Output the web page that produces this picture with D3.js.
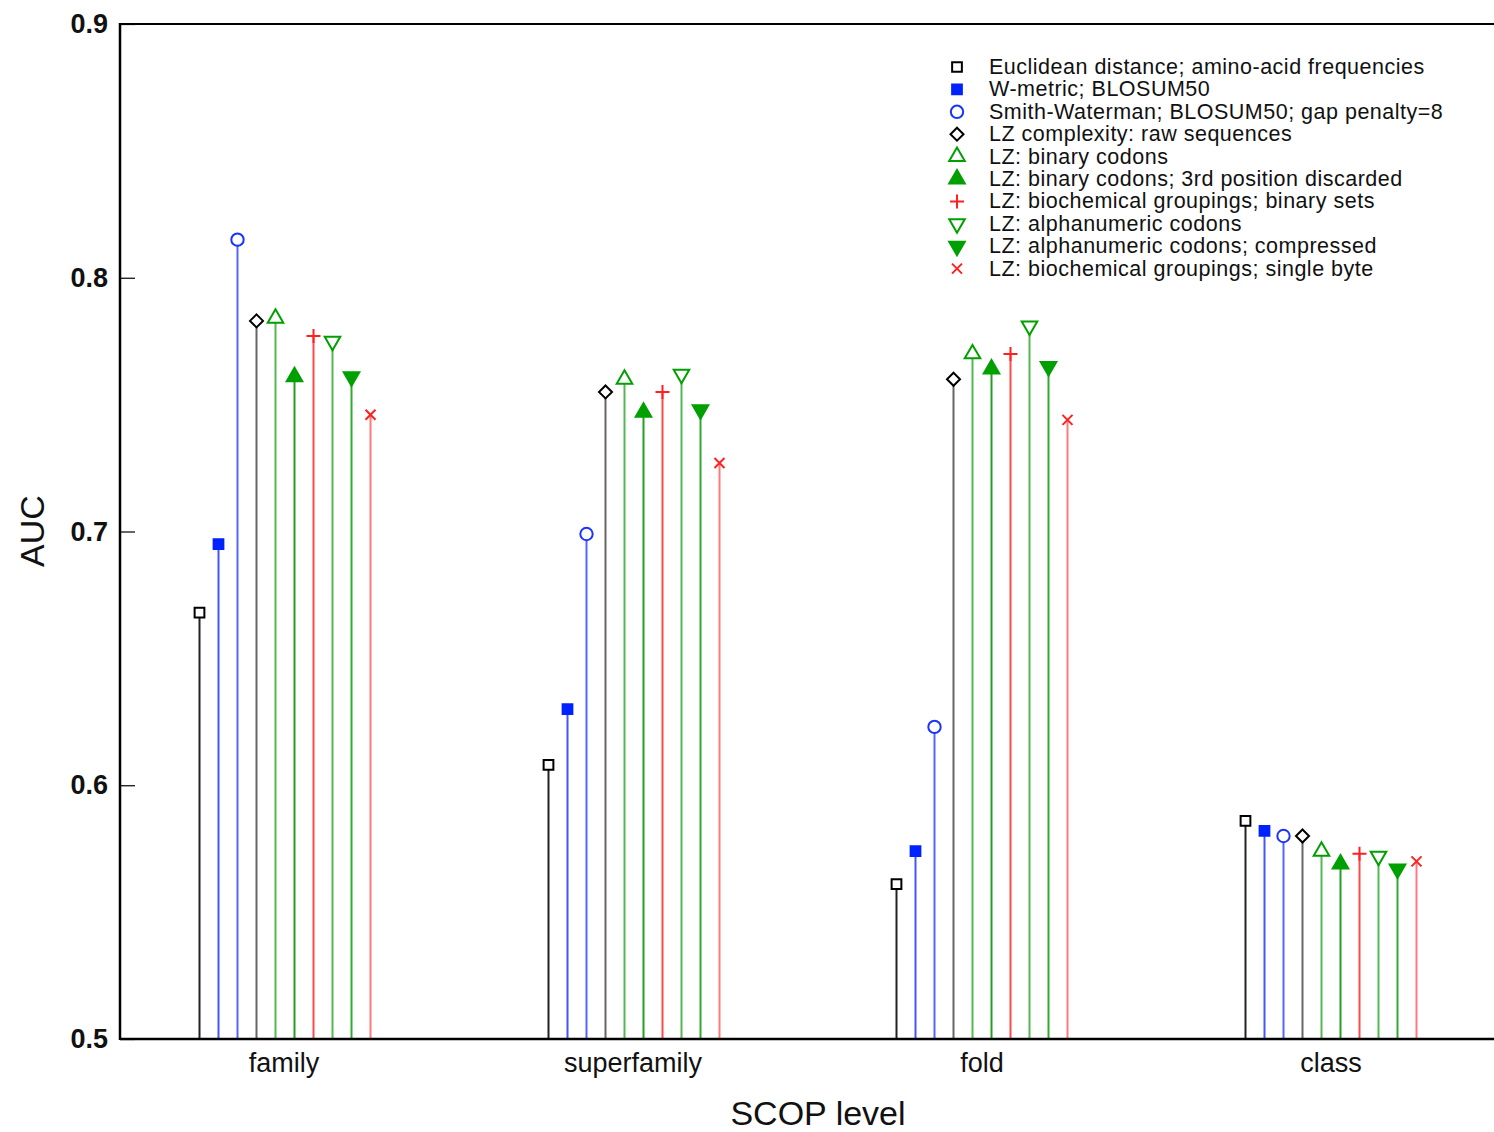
<!DOCTYPE html>
<html>
<head>
<meta charset="utf-8">
<script src="https://cdn.jsdelivr.net/npm/d3@7"></script>
<style>
  body { margin: 0; background: #fff; }
  svg text { font-family: "Liberation Sans", Arial, Helvetica, sans-serif; fill: #111; }
</style>
</head>
<body>
<div id="chart"></div>
<script>
// SCOP levels along the x axis
var levels = ['family', 'superfamily', 'fold', 'class'];

var seriesNames = [
  'Euclidean distance; amino-acid frequencies',
  'W-metric; BLOSUM50',
  'Smith-Waterman; BLOSUM50; gap penalty=8',
  'LZ complexity: raw sequences',
  'LZ: binary codons',
  'LZ: binary codons; 3rd position discarded',
  'LZ: biochemical groupings; binary sets',
  'LZ: alphanumeric codons',
  'LZ: alphanumeric codons; compressed',
  'LZ: biochemical groupings; single byte'
];

// AUC per series, one value per level (family, superfamily, fold, class)
var euclid      = [0.668, 0.608, 0.561, 0.586];
var wmetric     = [0.695, 0.630, 0.574, 0.582];
var smithW      = [0.815, 0.699, 0.623, 0.580];
var lzRaw       = [0.783, 0.755, 0.760, 0.580];
var lzBin       = [0.784, 0.760, 0.770, 0.574];
var lzBin3rd    = [0.761, 0.747, 0.764, 0.569];
var lzBioBinary = [0.777, 0.755, 0.770, 0.573];
var lzAlpha     = [0.775, 0.762, 0.781, 0.572];
var lzAlphaComp = [0.761, 0.748, 0.765, 0.567];
var lzBioByte   = [0.746, 0.727, 0.744, 0.570];

var yTicks = [0.5, 0.6, 0.7, 0.8, 0.9];

var allValues = [euclid, wmetric, smithW, lzRaw, lzBin, lzBin3rd, lzBioBinary, lzAlpha, lzAlphaComp, lzBioByte];

// marker style for each series
var styles = [
  {shape: 'square',   fill: false, color: '#000000', stem: '#222222'},
  {shape: 'square',   fill: true,  color: '#0022ff', stem: '#4455ff'},
  {shape: 'circle',   fill: false, color: '#1a33ff', stem: '#5566ff'},
  {shape: 'diamond',  fill: false, color: '#000000', stem: '#666666'},
  {shape: 'triUp',    fill: false, color: '#00a000', stem: '#55b855'},
  {shape: 'triUp',    fill: true,  color: '#00a000', stem: '#22a022'},
  {shape: 'plus',     fill: false, color: '#ff2020', stem: '#ff4a4a'},
  {shape: 'triDown',  fill: false, color: '#00a000', stem: '#55b855'},
  {shape: 'triDown',  fill: true,  color: '#00a000', stem: '#33a833'},
  {shape: 'times',    fill: false, color: '#ff2020', stem: '#ff7a7a'}
];

var W = 1494, H = 1132;
var plotLeft = 120, plotTop = 24, plotBottom = 1039, plotRight = 1494;

var svg = d3.select('#chart').append('svg')
  .attr('width', W)
  .attr('height', H);

var yScale = d3.scaleLinear()
  .domain([0.5, 0.9])
  .range([plotBottom, plotTop]);

var xScale = d3.scaleLinear()
  .domain([-0.47, 3.47])
  .range([plotLeft, plotRight + 1]);

var offset = d3.scalePoint()
  .domain(d3.range(seriesNames.length))
  .range([-85.5, 85.5]);

function markerPath(shape) {
  if (shape == 'square') return d3.symbol().type(d3.symbolSquare).size(95)();
  if (shape == 'circle') return d3.symbol().type(d3.symbolCircle).size(120)();
  if (shape == 'diamond') return 'M0,-6.5L6.5,0L0,6.5L-6.5,0Z';
  if (shape == 'triUp') return d3.symbol().type(d3.symbolTriangle).size(105)();
  if (shape == 'triDown') return d3.symbol().type(d3.symbolTriangle).size(105)();
  if (shape == 'plus') return 'M-7,0H7M0,-7V7';
  if (shape == 'times') return 'M-5,-5L5,5M-5,5L5,-5';
}

function drawMarker(g, st, x, y) {
  var p = g.append('path')
    .attr('d', markerPath(st.shape))
    .attr('transform', 'translate(' + x + ',' + y + ')' + (st.shape == 'triDown' ? ' rotate(180)' : ''))
    .style('stroke', st.color)
    .style('stroke-width', 2);
  if (st.fill) p.style('fill', st.color);
  else if (st.shape == 'plus' || st.shape == 'times') p.style('fill', 'none');
  else p.style('fill', '#fff');
}

// stems + markers
var plot = svg.append('g');
allValues.forEach(function (vals, s) {
  var st = styles[s];
  vals.forEach(function (v, i) {
    var x = Math.round(xScale(i) + offset(s)) + 0.5;
    plot.append('line')
      .attr('x1', x).attr('x2', x)
      .attr('y1', yScale(0.5)).attr('y2', yScale(v))
      .style('stroke', st.stem)
      .style('stroke-width', 2);
  });
});
allValues.forEach(function (vals, s) {
  var st = styles[s];
  vals.forEach(function (v, i) {
    var x = Math.round(xScale(i) + offset(s)) + 0.5;
    drawMarker(plot, st, x, yScale(v));
  });
});

// frame: left axis, bottom axis, top border
svg.append('line')
  .attr('x1', plotLeft).attr('x2', plotRight).attr('y1', plotTop).attr('y2', plotTop)
  .style('stroke', '#000').style('stroke-width', 2);
svg.append('line')
  .attr('x1', plotLeft).attr('x2', plotRight).attr('y1', plotBottom).attr('y2', plotBottom)
  .style('stroke', '#000').style('stroke-width', 2.5);
svg.append('line')
  .attr('x1', plotLeft).attr('x2', plotLeft).attr('y1', plotTop - 1).attr('y2', plotBottom + 1)
  .style('stroke', '#000').style('stroke-width', 2.5);

var yAxis = d3.axisRight(yScale)
  .tickValues(yTicks)
  .tickSize(15)
  .tickFormat('');
var yGuide = svg.append('g')
  .attr('transform', 'translate(' + plotLeft + ',0)')
  .call(yAxis);
yGuide.select('.domain').remove();
yGuide.selectAll('line').style('stroke', '#000').style('stroke-width', 1.2);

// tick labels
svg.selectAll('.ylab').data(yTicks).enter().append('text')
  .attr('class', 'ylab')
  .attr('x', 108)
  .attr('y', function (d) { return yScale(d) + 9; })
  .attr('text-anchor', 'end')
  .style('font-size', '27px')
  .style('font-weight', 'bold')
  .text(function (d) { return d3.format('.1f')(d); });

svg.selectAll('.xlab').data(levels).enter().append('text')
  .attr('class', 'xlab')
  .attr('x', function (d, i) { return xScale(i); })
  .attr('y', 1072)
  .attr('text-anchor', 'middle')
  .style('font-size', '27px')
  .text(function (d) { return d; });

svg.append('text')
  .attr('x', 818)
  .attr('y', 1125)
  .attr('text-anchor', 'middle')
  .style('font-size', '34px')
  .text('SCOP level');

svg.append('text')
  .attr('transform', 'translate(44,531) rotate(-90)')
  .attr('text-anchor', 'middle')
  .style('font-size', '34px')
  .text('AUC');

// legend
var legend = svg.append('g');
seriesNames.forEach(function (name, s) {
  var ly = 67 + s * 22.4;
  drawMarker(legend, Object.assign({}, styles[s]), 957, ly);
  legend.append('text')
    .attr('x', 989)
    .attr('y', ly + 7)
    .style('font-size', '21.5px')
    .style('letter-spacing', '0.5px')
    .text(name);
});
</script>
</body>
</html>
